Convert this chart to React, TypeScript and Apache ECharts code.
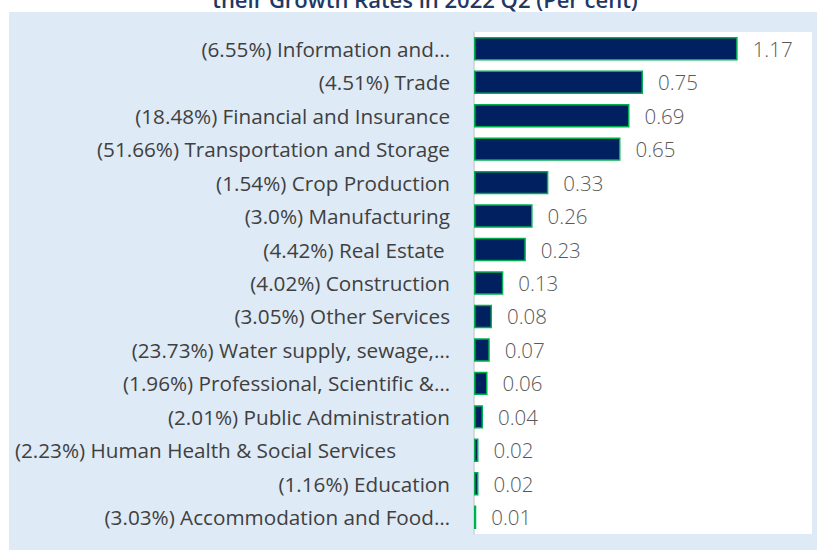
import React, { useEffect, useRef } from "react";
import * as echarts from "echarts";

const sectors = [
  "Information and…",
  "Trade",
  "Financial and Insurance",
  "Transportation and Storage",
  "Crop Production",
  "Manufacturing",
  "Real Estate ",
  "Construction",
  "Other Services",
  "Water supply, sewage,…",
  "Professional, Scientific &…",
  "Public Administration",
  "Human Health & Social Services",
  "Education",
  "Accommodation and Food…",
];
const growthRates = [
  "6.55%", "4.51%", "18.48%", "51.66%", "1.54%", "3.0%", "4.42%", "4.02%",
  "3.05%", "23.73%", "1.96%", "2.01%", "2.23%", "1.16%", "3.03%",
];
const contributions = [
  1.17, 0.75, 0.69, 0.65, 0.33, 0.26, 0.23, 0.13, 0.08, 0.07, 0.06, 0.04, 0.02,
  0.02, 0.01,
];
const titleText = "their Growth Rates in 2022 Q2 (Per cent)";

const categories = sectors.map((s, i) => `(${growthRates[i]}) ${s}`);

export default function App() {
  const ref = useRef<HTMLDivElement>(null);
  useEffect(() => {
    document.body.style.margin = "0";
    const chart = echarts.init(ref.current!, null, { renderer: "svg" });
    const font = "Open Sans";
    chart.setOption({
      animation: false,
      backgroundColor: "#ffffff",
      graphic: [
        {
          type: "rect",
          z: -10,
          shape: { x: 9, y: 12, width: 808, height: 538 },
          style: { fill: "#DEEAF6" },
          silent: true,
        },
        {
          type: "text",
          x: 425,
          y: 10,
          style: {
            text: titleText,
            fill: "#1F3864",
            font: `600 22px ${font}`,
            align: "center",
            verticalAlign: "bottom",
          },
        },
      ],
      grid: {
        left: 474,
        top: 32,
        right: 5,
        bottom: 16,
        show: true,
        backgroundColor: "#ffffff",
        borderWidth: 0,
      },
      xAxis: {
        type: "value",
        min: 0,
        max: 1.5,
        show: false,
      },
      yAxis: {
        type: "category",
        data: categories,
        inverse: true,
        axisTick: { show: false },
        axisLine: { lineStyle: { color: "#D0D0D0", width: 1.5 } },
        axisLabel: {
          margin: 24,
          fontFamily: font,
          fontSize: 20.7,
          color: "#404040",
          formatter: (v: string) =>
            v.indexOf("Human Health") >= 0 ? `{long|${v}}` : v,
          rich: {
            long: {
              fontFamily: font,
              fontSize: 20.7,
              color: "#404040",
              padding: [0, 54, 0, 0],
            },
          },
        },
      },
      series: [
        {
          type: "bar",
          data: contributions,
          barCategoryGap: "30%",
          itemStyle: {
            color: "#002060",
            borderColor: "#00B050",
            borderWidth: 1.5,
          },
          label: {
            show: true,
            position: "right",
            distance: 15,
            fontFamily: font,
            fontWeight: 300,
            fontSize: 20.5,
            color: "#595959",
            formatter: (p: any) => p.value.toFixed(2),
          },
        },
      ],
    });
    return () => chart.dispose();
  }, []);
  return (
    <div
      ref={ref}
      style={{ position: "absolute", left: 0, top: 0, width: 817, height: 550 }}
    />
  );
}
